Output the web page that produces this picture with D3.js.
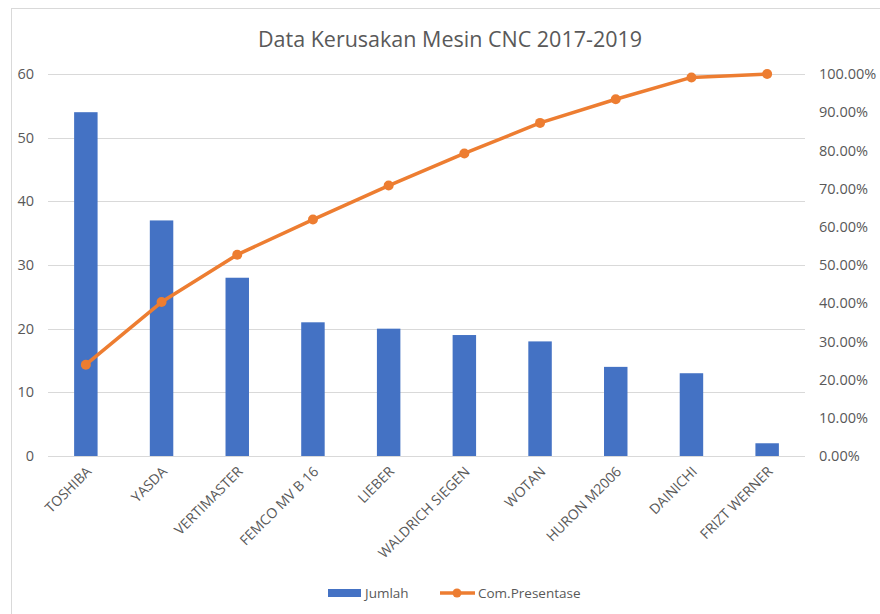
<!DOCTYPE html>
<html>
<head>
<meta charset="utf-8">
<script src="https://cdn.jsdelivr.net/npm/d3@7"></script>
<style>
  html, body { margin: 0; padding: 0; background: #fff; }
  #chart { width: 880px; height: 614px; }
  text { font-family: "Open Sans", "Liberation Sans", sans-serif; fill: #595959; }
</style>
</head>
<body>
<div id="chart"></div>
<script>
// Data
const machines = ['TOSHIBA', 'YASDA', 'VERTIMASTER', 'FEMCO MV B 16', 'LIEBER',
    'WALDRICH SIEGEN', 'WOTAN', 'HURON M2006', 'DAINICHI', 'FRIZT WERNER'];
const jumlah = [54, 37, 28, 21, 20, 19, 18, 14, 13, 2];
const comPresentase = [0.239, 0.403, 0.527, 0.619, 0.708, 0.792, 0.872, 0.934, 0.991, 1.0];
const leftTicks = [0, 10, 20, 30, 40, 50, 60];
const rightTicks = [0, 0.1, 0.2, 0.3, 0.4, 0.5, 0.6, 0.7, 0.8, 0.9, 1.0];

(function() {
    const width = 880, height = 614;
    const plot = { left: 48, right: 805, top: 74, bottom: 456 };

    const svg = d3.select('#chart').append('svg')
        .attr('width', width)
        .attr('height', height);

    // chart frame (only left and top edges visible in the crop)
    svg.append('rect')
        .attr('x', 11.5).attr('y', 8.5)
        .attr('width', 900).attr('height', 700)
        .attr('fill', 'none')
        .attr('stroke', '#d9d9d9');

    const x = d3.scaleBand()
        .domain(machines)
        .range([plot.left, plot.right])
        .paddingInner(0.69)
        .paddingOuter(0.345);

    const y = d3.scaleLinear().domain([0, 60]).range([plot.bottom, plot.top]);
    const y2 = d3.scaleLinear().domain([0, 1]).range([plot.bottom, plot.top]);

    // gridlines
    svg.append('g').selectAll('line')
        .data(leftTicks)
        .enter().append('line')
        .attr('x1', plot.left).attr('x2', plot.right)
        .attr('y1', d => Math.round(y(d)) + 0.5)
        .attr('y2', d => Math.round(y(d)) + 0.5)
        .attr('stroke', '#d9d9d9')
        .attr('stroke-width', 1);

    // left axis
    const yAxis = d3.axisLeft(y).tickValues(leftTicks).tickSize(0).tickPadding(0);
    const gy = svg.append('g')
        .attr('transform', `translate(${34},0)`)
        .call(yAxis);
    gy.select('.domain').remove();
    gy.selectAll('text')
        .attr('font-size', '14.5px')
        .attr('fill', '#595959')
        .style('font-family', '"Open Sans", "Liberation Sans", sans-serif');

    // right axis
    const y2Axis = d3.axisRight(y2).tickValues(rightTicks).tickSize(0).tickPadding(0)
        .tickFormat(d3.format('.2%'));
    const gy2 = svg.append('g')
        .attr('transform', `translate(${819},0)`)
        .call(y2Axis);
    gy2.select('.domain').remove();
    gy2.selectAll('text')
        .attr('font-size', '14.5px')
        .attr('fill', '#595959')
        .style('font-family', '"Open Sans", "Liberation Sans", sans-serif');

    // bars
    svg.append('g').selectAll('rect')
        .data(jumlah)
        .enter().append('rect')
        .attr('x', (d, i) => x(machines[i]))
        .attr('y', d => y(d))
        .attr('width', x.bandwidth())
        .attr('height', d => y(0) - y(d))
        .attr('fill', '#4472c4');

    // x axis line
    svg.append('line')
        .attr('x1', plot.left).attr('x2', plot.right)
        .attr('y1', Math.round(y(0)) + 0.5).attr('y2', Math.round(y(0)) + 0.5)
        .attr('stroke', '#d9d9d9');

    // category labels
    svg.append('g').selectAll('text')
        .data(machines)
        .enter().append('text')
        .attr('transform', d => `translate(${x(d) + x.bandwidth() / 2 + 3},${469}) rotate(-45)`)
        .attr('text-anchor', 'end')
        .attr('dy', '0.35em')
        .attr('font-size', '14px')
        .text(d => d);

    // cumulative line
    const cx = i => x(machines[i]) + x.bandwidth() / 2;
    const line = d3.line()
        .x((d, i) => cx(i))
        .y(d => y2(d));

    svg.append('path')
        .datum(comPresentase)
        .attr('d', line)
        .attr('fill', 'none')
        .attr('stroke', '#ed7d31')
        .attr('stroke-width', 3.5)
        .attr('stroke-linejoin', 'round');

    svg.append('g').selectAll('circle')
        .data(comPresentase)
        .enter().append('circle')
        .attr('cx', (d, i) => cx(i))
        .attr('cy', d => y2(d))
        .attr('r', 5)
        .attr('fill', '#ed7d31');

    // title
    svg.append('text')
        .attr('x', 450).attr('y', 47)
        .attr('text-anchor', 'middle')
        .attr('font-size', '21.5px')
        .text('Data Kerusakan Mesin CNC 2017-2019');

    // legend
    const legend = svg.append('g').attr('transform', 'translate(0,593)');
    legend.append('rect')
        .attr('x', 328).attr('y', -4)
        .attr('width', 33).attr('height', 8)
        .attr('fill', '#4472c4');
    legend.append('text')
        .attr('x', 365).attr('y', 0).attr('dy', '0.35em')
        .attr('font-size', '13.5px')
        .text('Jumlah');
    legend.append('line')
        .attr('x1', 440).attr('x2', 475)
        .attr('y1', 0).attr('y2', 0)
        .attr('stroke', '#ed7d31').attr('stroke-width', 3.5);
    legend.append('circle')
        .attr('cx', 457).attr('cy', 0).attr('r', 4.5)
        .attr('fill', '#ed7d31');
    legend.append('text')
        .attr('x', 478).attr('y', 0).attr('dy', '0.35em')
        .attr('font-size', '13.5px')
        .text('Com.Presentase');
})();
</script>
</body>
</html>
